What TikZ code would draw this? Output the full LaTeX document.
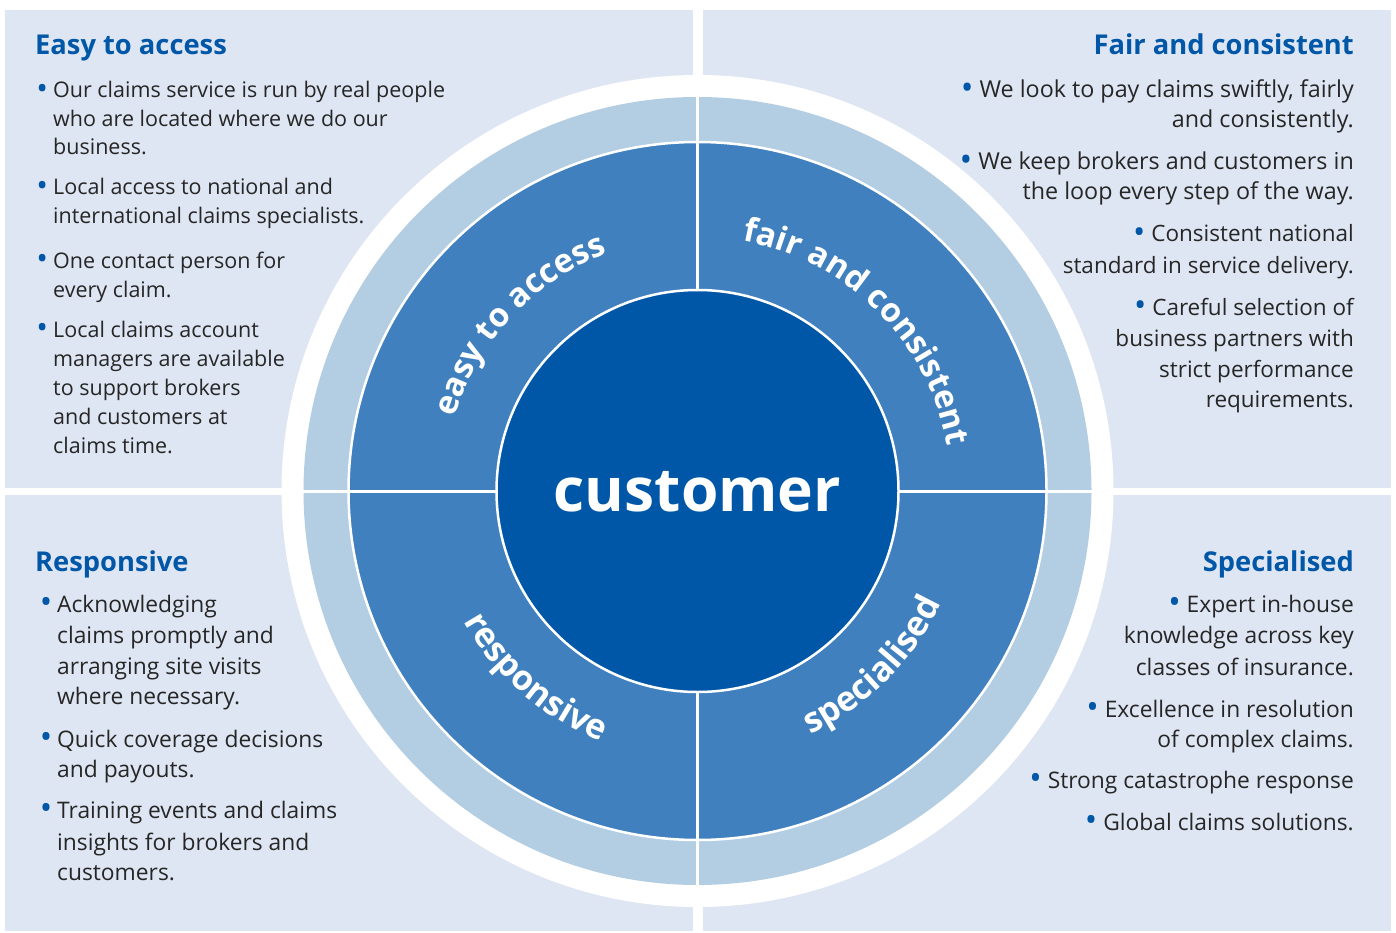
\documentclass[tikz,border=0pt]{standalone}
\usepackage{fontspec}
\setmainfont{Open Sans}
\usetikzlibrary{decorations.text}
\definecolor{panelbg}{RGB}{223,230,243}
\definecolor{ringlight}{RGB}{179,205,227}
\definecolor{ringmid}{RGB}{64,128,190}
\definecolor{core}{RGB}{0,87,168}
\definecolor{titleblue}{RGB}{0,87,168}
\definecolor{bodytext}{RGB}{38,38,38}
\newcommand\bul{\textcolor{titleblue}{\raisebox{-1.6pt}{\scalebox{1.45}{\textbullet}}}}
\newcommand\ringfont{\fontsize{33}{33}\selectfont\bfseries}
\newcommand\ringfontb{\fontsize{34.5}{34.5}\selectfont\bfseries}
\begin{document}
\begin{tikzpicture}[x=1pt,y=-1pt,
  panel/.style={fill=panelbg,draw=none},
  title/.style={font=\fontsize{27.3}{30}\selectfont\bfseries, text=titleblue, inner sep=0pt},
  body/.style={font=\fontsize{21.5}{28}\selectfont, text=bodytext, inner sep=0pt},
  bodyl/.style={font=\fontsize{22.8}{28}\selectfont, text=bodytext, inner sep=0pt},
  lft/.style={body, anchor=base west},
  lftb/.style={bodyl, anchor=base west},
  rgtb/.style={bodyl, anchor=base east},
  rgtt/.style={font=\fontsize{22.5}{28}\selectfont, text=bodytext, inner sep=0pt, anchor=base east},
  rgtw/.style={font=\fontsize{23.3}{28}\selectfont, text=bodytext, inner sep=0pt, anchor=base east},
  divider/.style={draw=white, line width=3pt},
  ringlabel/.style={decorate, decoration={text along path, text color=white, text align=center, text={|\ringfont|#1}}},
  ringlabelb/.style={decorate, decoration={text along path, text color=white, text align=center, text={|\ringfontb|#1}}}
]
\useasboundingbox[fill=white] (0,0) rectangle (1396,933);
% panels
\fill[panel] (5,10) rectangle (693,488);
\fill[panel] (703,10) rectangle (1391,488);
\fill[panel] (5,495) rectangle (693,931);
\fill[panel] (703,495) rectangle (1391,931);
% wheel
\coordinate (C) at (697.5,491);
\fill[white] (C) circle[radius=416];
\fill[ringlight] (C) circle[radius=394];
\filldraw[fill=ringmid, draw=white, line width=2.5pt] (C) circle[radius=349];
\draw[divider] (697.5,97) -- (697.5,885);
\draw[divider] (303,491) -- (1092,491);
\filldraw[fill=core, draw=white, line width=2.5pt] (C) circle[radius=201];
\node[font=\fontsize{60.5}{62}\selectfont\bfseries, text=white, inner sep=0pt, anchor=base] (cust) at (697.5,511) {customer};
% ring labels (y axis points down: user angle = minus visual angle)
\path[ringlabel={easy to access}] (C) ++(178:254) arc[start angle=178, end angle=268, radius=254];
\path[ringlabel={fair and consistent}] (C) ++(-100:254) arc[start angle=-100, end angle=10, radius=254];
\path[ringlabelb={responsive}] (C) ++(176:268) arc[start angle=176, end angle=86, radius=268];
\path[ringlabelb={specialised}] (C) ++(90:268) arc[start angle=90, end angle=0, radius=268];
% top-left
\node[title, anchor=base west] (t1) at (35,55) {Easy to access};
\node[lft] (a1) at (53,98) {\llap{\bul\hspace{5pt}}Our claims service is run by real people};
\node[lft] (a2) at (53,127) {who are located where we do our};
\node[lft] (a3) at (53,155) {business.};
\node[lft] (a4) at (53,195) {\llap{\bul\hspace{5pt}}Local access to national and};
\node[lft] (a5) at (53,224) {international claims specialists.};
\node[lft] (a6) at (53,268) {\llap{\bul\hspace{5pt}}One contact person for};
\node[lft] (a7) at (53,297) {every claim.};
\node[lft] (a8) at (53,337) {\llap{\bul\hspace{5pt}}Local claims account};
\node[lft] (a9) at (53,366) {managers are available};
\node[lft] (a10) at (53,395) {to support brokers};
\node[lft] (a11) at (53,424) {and customers at};
\node[lft] (a12) at (53,453) {claims time.};
% top-right
\node[title, anchor=base east] (t2) at (1354,55) {Fair and consistent};
\node[rgtw] (b1) at (1354,98) {\bul\ We look to pay claims swiftly, fairly};
\node[rgtw] (b2) at (1354,128) {and consistently.};
\node[rgtw] (b3) at (1354,170) {\bul\ We keep brokers and customers in};
\node[rgtw] (b4) at (1354,200) {the loop every step of the way.};
\node[rgtt] (b5) at (1354,242) {\bul\ Consistent national};
\node[rgtt] (b6) at (1354,273) {standard in service delivery.};
\node[rgtt] (b7) at (1354,315) {\bul\ Careful selection of};
\node[rgtt] (b8) at (1354,346) {business partners with};
\node[rgtt] (b9) at (1354,377) {strict performance};
\node[rgtt] (b10) at (1354,407) {requirements.};
% bottom-left
\node[title, anchor=base west] (t3) at (35,571) {Responsive};
\node[lftb] (c1) at (57,612) {\llap{\bul\hspace{5pt}}Acknowledging};
\node[lftb] (c2) at (57,643) {claims promptly and};
\node[lftb] (c3) at (57,674) {arranging site visits};
\node[lftb] (c4) at (57,704) {where necessary.};
\node[lftb] (c5) at (57,747) {\llap{\bul\hspace{5pt}}Quick coverage decisions};
\node[lftb] (c6) at (57,777) {and payouts.};
\node[lftb] (c7) at (57,818) {\llap{\bul\hspace{5pt}}Training events and claims};
\node[lftb] (c8) at (57,850) {insights for brokers and};
\node[lftb] (c9) at (57,880) {customers.};
% bottom-right
\node[title, anchor=base east] (t4) at (1354,571) {Specialised};
\node[rgtb] (d1) at (1354,612) {\bul\ Expert in-house};
\node[rgtb] (d2) at (1354,643) {knowledge across key};
\node[rgtb] (d3) at (1354,675) {classes of insurance.};
\node[rgtb] (d4) at (1354,717) {\bul\ Excellence in resolution};
\node[rgtb] (d5) at (1354,747) {of complex claims.};
\node[rgtb] (d6) at (1354,788) {\bul\ Strong catastrophe response};
\node[rgtb] (d7) at (1354,830) {\bul\ Global claims solutions.};
\end{tikzpicture}
\end{document}
